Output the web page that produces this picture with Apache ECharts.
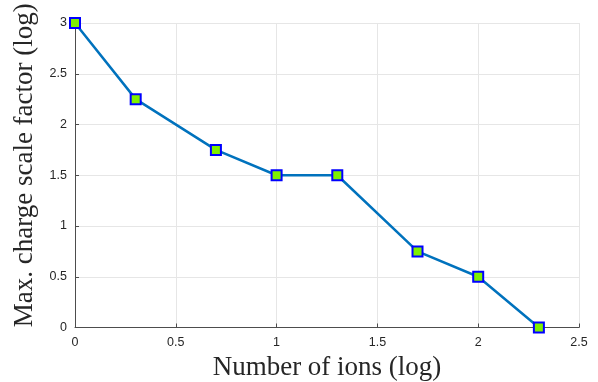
<!DOCTYPE html>
<html>
<head>
<meta charset="utf-8">
<script src="https://cdn.jsdelivr.net/npm/echarts@6/dist/echarts.min.js"></script>
<style>html,body{margin:0;padding:0;background:#fff}#c{width:598px;height:382px}</style>
</head>
<body>
<div id="c"></div>
<script>
const ionsLog = [0, 0.30103, 0.69897, 1, 1.30103, 1.69897, 2, 2.30103];
const scaleLog = [3, 2.25, 1.75, 1.5, 1.5, 0.75, 0.5, 0];
const xTitle = 'Number of ions (log)';
const yTitle = 'Max. charge scale factor (log)';

const chart = echarts.init(document.getElementById('c'));
chart.setOption({
  animation: false,
  grid: {left: 75, right: 19, top: 23, bottom: 54.5, outerBoundsMode: 'none', containLabel: false},
  xAxis: {
    type: 'value', min: 0, max: 2.5, interval: 0.5,
    name: xTitle, nameLocation: 'middle', nameGap: 11,
    nameTextStyle: {fontFamily: 'Liberation Serif', fontSize: 27, color: '#262626'},
    axisLine: {show: true, onZero: false, lineStyle: {color: '#4d4d4d', width: 1}},
    axisTick: {show: true, inside: true, length: 4, lineStyle: {color: '#4d4d4d'}},
    axisLabel: {fontFamily: 'Liberation Sans', fontSize: 12.5, color: '#262626', margin: 9},
    splitLine: {show: true, lineStyle: {color: '#e6e6e6', width: 1}}
  },
  yAxis: {
    type: 'value', min: 0, max: 3, interval: 0.5,
    name: yTitle, nameLocation: 'middle', nameGap: 33,
    nameTextStyle: {fontFamily: 'Liberation Serif', fontSize: 27, color: '#262626', padding: [0, 0, 0, 20]},
    axisLine: {show: true, lineStyle: {color: '#4d4d4d', width: 1}},
    axisTick: {show: true, inside: true, length: 4, lineStyle: {color: '#4d4d4d'}},
    axisLabel: {fontFamily: 'Liberation Sans', fontSize: 12.5, color: '#262626', margin: 8},
    splitLine: {show: true, lineStyle: {color: '#e6e6e6', width: 1}}
  },
  series: [{
    type: 'line',
    data: ionsLog.map((x, i) => [x, scaleLog[i]]),
    lineStyle: {color: '#0072BD', width: 2.5},
    symbol: 'rect', symbolSize: 10,
    itemStyle: {color: '#7ff000', borderColor: '#0000ff', borderWidth: 2},
    z: 3
  }]
});
</script>
</body>
</html>
